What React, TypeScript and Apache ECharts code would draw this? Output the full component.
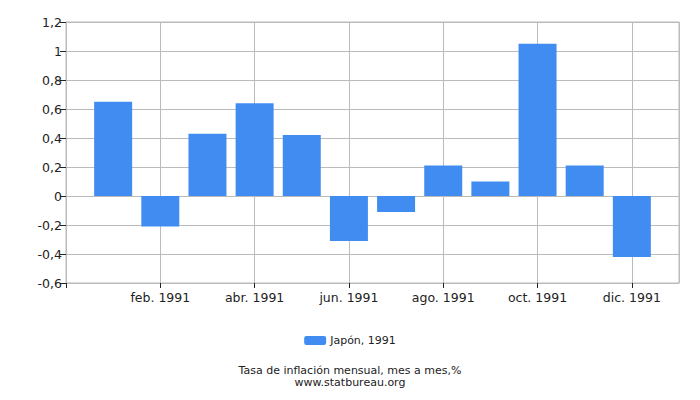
import React, { useEffect, useRef } from 'react';
import * as echarts from 'echarts';

const monthLabels = [
  'ene. 1991', 'feb. 1991', 'mar. 1991', 'abr. 1991', 'may. 1991', 'jun. 1991',
  'jul. 1991', 'ago. 1991', 'sep. 1991', 'oct. 1991', 'nov. 1991', 'dic. 1991',
];
const inflation = [0.65, -0.21, 0.43, 0.64, 0.42, -0.31, -0.11, 0.21, 0.1, 1.05, 0.21, -0.42];
const seriesName = 'Japón, 1991';
const titleLines = ['Tasa de inflación mensual, mes a mes,%', 'www.statbureau.org'];

const FONT = '"DejaVu Sans", sans-serif';

const App: React.FC = () => {
  const chartRef = useRef<HTMLDivElement>(null);

  useEffect(() => {
    if (!chartRef.current) return;
    document.body.style.margin = '0';

    const chart = echarts.init(chartRef.current, null, { renderer: 'svg' });

    const option = {
      animation: false,
      textStyle: { fontFamily: FONT },
      title: {
        text: titleLines.join('\n'),
        left: 'center',
        top: 359,
        textStyle: {
          fontFamily: FONT,
          fontSize: 11,
          fontWeight: 'normal',
          color: '#222',
          lineHeight: 12,
        },
      },
      legend: {
        data: [seriesName],
        left: 'center',
        top: 330,
        itemWidth: 22,
        itemHeight: 9,
        itemGap: 4,
        textStyle: { fontFamily: FONT, fontSize: 11, color: '#222', padding: [0, 0, 0, -1] },
      },
      grid: {
        left: 66,
        right: 21,
        top: 22,
        bottom: 117,
        show: true,
        borderColor: '#bbb',
        borderWidth: 1,
        containLabel: false,
      },
      xAxis: {
        type: 'value',
        min: 0,
        max: 13,
        interval: 2,
        axisLine: { show: true, onZero: false, lineStyle: { color: '#bbb' } },
        axisTick: { show: true, length: 5, lineStyle: { color: '#222' } },
        splitLine: { show: true, lineStyle: { color: '#bbb' } },
        axisLabel: {
          color: '#222',
          fontSize: 12.5,
          fontFamily: FONT,
          margin: 8,
          showMaxLabel: false,
          formatter: (v: number) => (v >= 1 && v <= 12 ? monthLabels[v - 1] : ''),
        },
      },
      yAxis: {
        type: 'value',
        min: -0.6,
        max: 1.2,
        interval: 0.2,
        axisLine: { show: true, lineStyle: { color: '#bbb' } },
        axisTick: { show: true, length: 6, lineStyle: { color: '#222' } },
        splitLine: { show: true, lineStyle: { color: '#bbb' } },
        axisLabel: {
          color: '#222',
          fontSize: 12.5,
          fontFamily: FONT,
          margin: 4,
          formatter: (v: number) => String(Math.round(v * 10) / 10).replace('.', ','),
        },
      },
      series: [
        {
          name: seriesName,
          type: 'bar',
          barWidth: 38,
          itemStyle: { color: '#418CF0' },
          data: inflation.map((v, i) => [i + 1, v]),
        },
      ],
    };

    chart.setOption(option);

    return () => {
      chart.dispose();
    };
  }, []);

  return <div ref={chartRef} style={{ width: 700, height: 400 }} />;
};

export default App;
